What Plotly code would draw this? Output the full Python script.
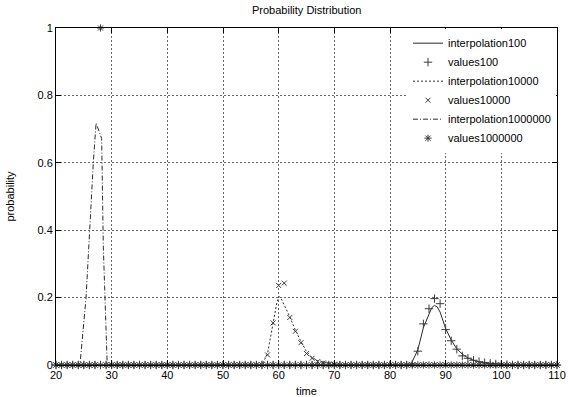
import plotly.graph_objects as go

# ---------------- data ----------------
x_int = list(range(20, 111))

# values100 (+ markers) – nonzero part
v100_nz = {84: 0.003, 85: 0.041, 86: 0.122, 87: 0.167, 88: 0.197, 89: 0.182, 90: 0.105,
           91: 0.072, 92: 0.047, 93: 0.027, 94: 0.020, 95: 0.014, 96: 0.010,
           97: 0.007, 98: 0.005, 99: 0.003, 100: 0.002, 101: 0.001}
values100 = [v100_nz.get(x, 0.0) for x in x_int]

# values10000 (x markers)
v10000_nz = {58: 0.030, 59: 0.125, 60: 0.236, 61: 0.243, 62: 0.141, 63: 0.100,
             64: 0.066, 65: 0.034, 66: 0.020, 67: 0.010, 68: 0.006, 69: 0.003, 70: 0.002}
values10000 = [v10000_nz.get(x, 0.0) for x in x_int]

# values1000000 (* markers)
v1000000_nz = {28: 1.0}
values1000000 = [v1000000_nz.get(x, 0.0) for x in x_int]

# interpolations
interp100_x = [20, 83.7, 84, 85, 86, 87, 87.5, 88, 88.5, 89, 90, 91, 92, 93, 94, 95, 96, 98, 100, 102, 110]
interp100_y = [0, 0, 0.010, 0.045, 0.111, 0.153, 0.170, 0.177, 0.172, 0.157, 0.108, 0.074, 0.048,
               0.032, 0.021, 0.014, 0.009, 0.004, 0.002, 0, 0]

interp10000_x = [20, 57.0, 58, 59, 59.7, 60.1, 60.6, 62, 63, 64, 65, 66, 67, 68, 69, 70, 72, 73, 110]
interp10000_y = [0, 0, 0.034, 0.125, 0.187, 0.203, 0.192, 0.143, 0.103, 0.070, 0.040, 0.022,
                 0.013, 0.008, 0.005, 0.003, 0.001, 0, 0]

interp1000000_x = [20, 24.3, 25.4, 26.0, 26.7, 27.2, 28.2, 28.5, 29.2, 110]
interp1000000_y = [0, 0, 0.2, 0.4, 0.6, 0.718, 0.672, 0.35, 0, 0]

x_ticks = [20, 30, 40, 50, 60, 70, 80, 90, 100, 110]
y_ticks = [0, 0.2, 0.4, 0.6, 0.8, 1]
y_tick_text = ["0", "0.2", "0.4", "0.6", "0.8", "1"]

# ---------------- figure ----------------
FONT = "Liberation Sans, Arial, sans-serif"
LC = "#2a2a2a"
MC = "#3a3a3a"

fig = go.Figure()
fig.add_trace(go.Scatter(x=interp100_x, y=interp100_y, mode="lines", name="interpolation100",
                         line=dict(color=LC, width=1, dash="solid")))
fig.add_trace(go.Scatter(x=x_int, y=values100, mode="markers", name="values100",
                         marker=dict(symbol="cross-thin-open", size=6, color=MC,
                                     line=dict(color=MC, width=1)), cliponaxis=False))
fig.add_trace(go.Scatter(x=interp10000_x, y=interp10000_y, mode="lines", name="interpolation10000",
                         line=dict(color=LC, width=1, dash="2px,2px")))
fig.add_trace(go.Scatter(x=x_int, y=values10000, mode="markers", name="values10000",
                         marker=dict(symbol="x-thin-open", size=5, color=MC,
                                     line=dict(color=MC, width=1)), cliponaxis=False))
fig.add_trace(go.Scatter(x=interp1000000_x, y=interp1000000_y, mode="lines", name="interpolation1000000",
                         line=dict(color=LC, width=1, dash="5px,2px,1px,2px")))
fig.add_trace(go.Scatter(x=x_int, y=values1000000, mode="markers", name="values1000000",
                         marker=dict(symbol="asterisk-open", size=6, color=MC,
                                     line=dict(color=MC, width=1)), cliponaxis=False))

axis_common = dict(
    showline=True, linecolor="#000", linewidth=1, mirror="ticks",
    ticks="inside", ticklen=5, tickcolor="#000", tickwidth=1,
    showgrid=True, gridcolor="#666", griddash="2px,2px", gridwidth=1,
    zeroline=False, automargin=False, ticklabeloverflow="allow",
    tickfont=dict(family=FONT, size=11, color="#000"),
)

fig.update_layout(
    width=568, height=397,
    margin=dict(l=56, r=11, t=28, b=32),
    paper_bgcolor="white", plot_bgcolor="white",
    font=dict(family=FONT, size=11, color="#000"),
    title=dict(text="Probability Distribution", x=0.54, xanchor="center",
               y=1 - 10 / 397, yanchor="middle", font=dict(family=FONT, size=11)),
    xaxis=dict(range=[20, 110], tickvals=x_ticks,
               title=dict(text="time", font=dict(family=FONT, size=11), standoff=8),
               **axis_common),
    yaxis=dict(range=[0, 1], tickvals=y_ticks, ticktext=y_tick_text,
               title=dict(text="probability", font=dict(family=FONT, size=11), standoff=20),
               **axis_common),
    legend=dict(x=0.998, xanchor="right", y=0.998, yanchor="top",
                bgcolor="white", borderwidth=0, font=dict(family=FONT, size=11),
                itemwidth=30, tracegroupgap=0),
    showlegend=True,
)

fig.write_html("out.html",
               config={"displayModeBar": False},
               post_script="document.body.style.margin='0';document.body.style.padding='0';"
                           "document.documentElement.style.overflow='hidden';")
